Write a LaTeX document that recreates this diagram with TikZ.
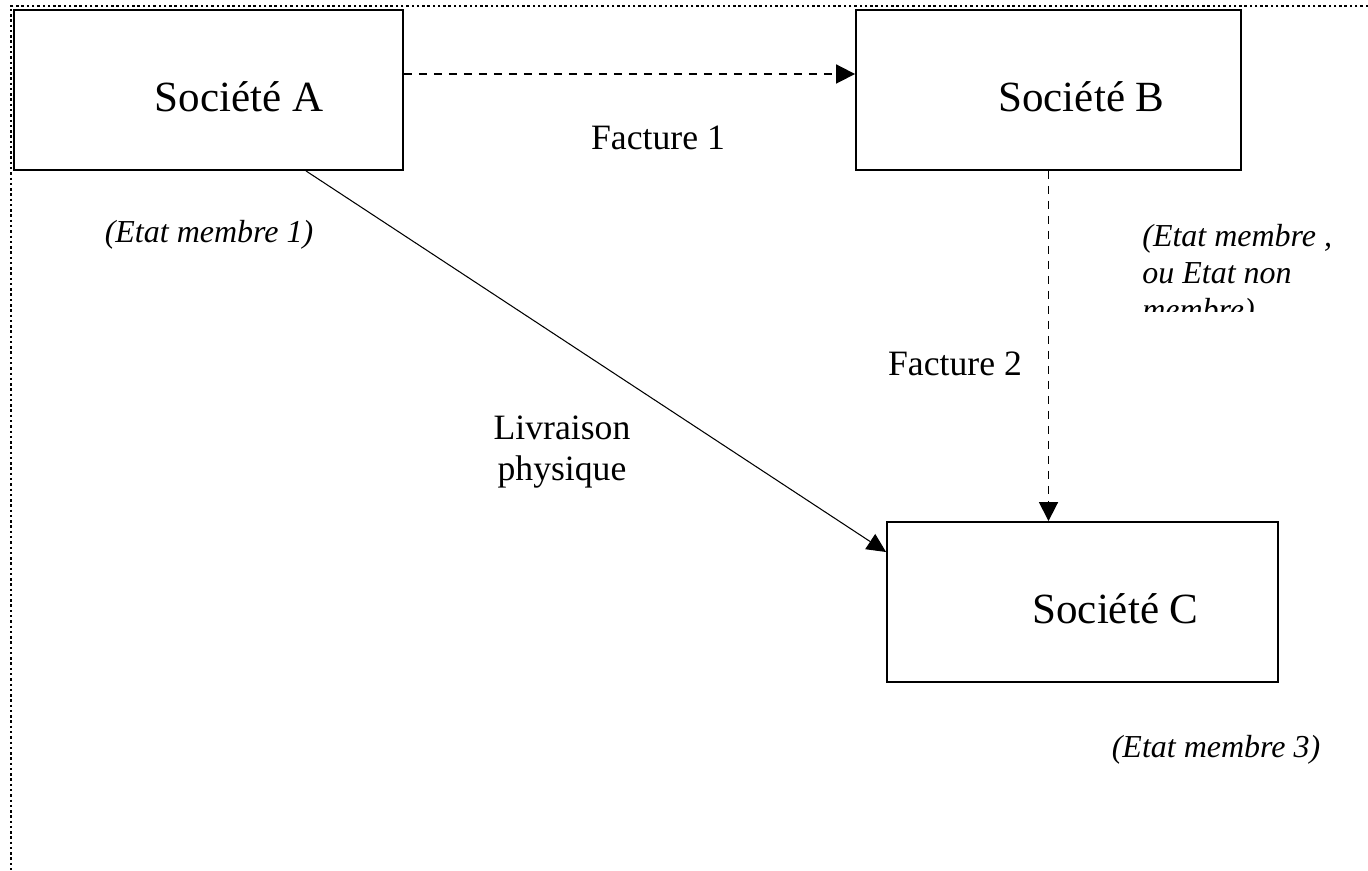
\documentclass[tikz,border=0pt]{standalone}
\usepackage{fontspec}
\setmainfont{Liberation Serif}
\usetikzlibrary{arrows.meta,calc}
\tikzset{
  company/.style={draw=black, line width=1.1pt, rectangle, minimum height=3.2cm, inner sep=0pt, fill=none},
  invoice/.style={-{Triangle[length=0.38cm, width=0.38cm]}, line width=1pt, draw=black, dash pattern=on 0.16cm off 0.14cm},
  delivery/.style={-{Triangle[length=0.38cm, width=0.36cm]}, line width=0.6pt, draw=black},
  cname/.style={anchor=base, font=\fontsize{24.5}{29}\selectfont},
  flow/.style={anchor=base, font=\fontsize{20.3}{23.3}\selectfont},
  state/.style={font=\fontsize{18.2}{21}\selectfont\itshape, inner sep=0pt},
  frame/.style={line width=1.4pt, dash pattern=on 1.4pt off 1.6pt}
}

\begin{document}
\begin{tikzpicture}[x=0.02cm, y=-0.02cm]
  \useasboundingbox (0,0) rectangle (1368,871);
  \draw[frame] (1368,6) -- (11,6) -- (11,871);

  \node[company, minimum width=7.78cm] (A) at (208.5,90) {};
  \node[company, minimum width=7.7cm] (B) at (1048.5,90) {};
  \node[company, minimum width=7.82cm] (C) at (1082.5,602) {};

  \node[cname] (nameA) at (239,112) {Société A};
  \node[cname] (nameB) at (1081.5,112) {Société B};
  \node[cname] (nameC) at (1115.5,623) {Société C};

  \draw[invoice] ($(A.east)+(0,-16)$) -- ($(B.west)+(0,-16)$);
  \draw[invoice] (B.south) -- (B.south |- C.north);
  \draw[delivery] ($(A.south)+(97.5,0)$) -- ($(C.west)+(0,-50)$);

  \node[flow] (fact1) at (658,150) {Facture 1};
  \node[flow] (fact2) at (955,375) {Facture 2};
  \node[flow, align=center] (livr) at (562,480) {Livraison\\physique};

  \node[state, anchor=base] (stateA) at (209,243) {(Etat membre 1)};
  \node[state, anchor=base] (stateC) at (1216,757) {(Etat membre 3)};
  \begin{scope}
    \clip (1100,200) rectangle (1368,312);
    \node[state, anchor=north west, align=left] (stateB) at (1142,224) {(Etat membre ,\\ou Etat non\\membre)};
  \end{scope}
\end{tikzpicture}
\end{document}
